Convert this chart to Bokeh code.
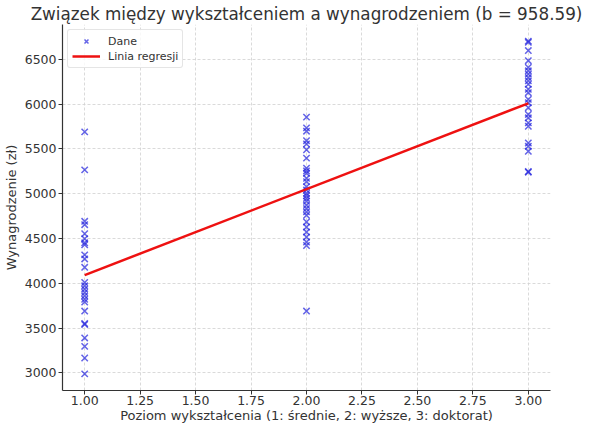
from bokeh.plotting import figure
from bokeh.models import FixedTicker, NumeralTickFormatter, Range1d, Legend, LegendItem
from bokeh.embed import file_html
from bokeh.resources import INLINE

# education levels and salaries
poziomy = [1, 2, 3]
pensje_srednie = [5690, 5266, 4692, 4654, 4553, 4497, 4452, 4430, 4317, 4272, 4178,
                  4009, 3972, 3934, 3897, 3859, 3822, 3791, 3690, 3551, 3540, 3390,
                  3296, 3166, 2989]
pensje_wyzsze = [5855, 5735, 5698, 5592, 5555, 5491, 5397, 5285, 5254, 5228, 5172,
                 5135, 5078, 5041, 5003, 4977, 4947, 4916, 4871, 4834, 4797, 4759,
                 4685, 4628, 4572, 4516, 4460, 4422, 3690]
pensje_doktorat = [6703, 6690, 6598, 6485, 6410, 6372, 6335, 6297, 6260, 6222, 6166,
                   6128, 6053, 6016, 5960, 5885, 5847, 5791, 5753, 5566, 5529, 5473,
                   5248, 5240]

nachylenie = 958.59
wyraz_wolny = 3133.0
x_ticks = [1.0, 1.25, 1.5, 1.75, 2.0, 2.25, 2.5, 2.75, 3.0]
y_ticks = [3000, 3500, 4000, 4500, 5000, 5500, 6000, 6500]

FONT = "DejaVu Sans"
TXT = "#333333"

x_vals = []
y_vals = []
for lvl, vals in zip(poziomy, [pensje_srednie, pensje_wyzsze, pensje_doktorat]):
    x_vals += [lvl] * len(vals)
    y_vals += vals

p = figure(width=584, height=425, output_backend="svg", toolbar_location=None,
           x_range=Range1d(0.9, 3.1), y_range=Range1d(2803, 6889),
           title="Związek między wykształceniem a wynagrodzeniem (b = 958.59)",
           min_border_left=0, min_border_right=34, min_border_top=0, min_border_bottom=0)

p.title.text_font = FONT
p.title.text_font_size = "16.8px"
p.title.text_font_style = "normal"
p.title.text_color = TXT
p.title.align = "center"
p.title.offset = -4
p.title.standoff = 2

dane = p.scatter(x_vals, y_vals, marker="x", size=9, line_width=1.5,
                 color="#2222dd", alpha=0.7)

lx = [poziomy[0], poziomy[-1]]
ly = [wyraz_wolny + nachylenie * v for v in lx]
linia = p.line(lx, ly, color="#ee1111", line_width=2.5)

p.xaxis.ticker = FixedTicker(ticks=x_ticks)
p.xaxis.formatter = NumeralTickFormatter(format="0.00")
p.yaxis.ticker = FixedTicker(ticks=y_ticks)
p.xaxis.axis_label = "Poziom wykształcenia (1: średnie, 2: wyższe, 3: doktorat)"
p.yaxis.axis_label = "Wynagrodzenie (zł)"

for ax in (p.xaxis[0], p.yaxis[0]):
    ax.axis_label_text_font = FONT
    ax.axis_label_text_font_size = "13px"
    ax.axis_label_text_font_style = "normal"
    ax.axis_label_text_color = TXT
    ax.major_label_text_font = FONT
    ax.major_label_text_font_size = "12.5px"
    ax.major_label_text_color = TXT
    ax.minor_tick_line_color = None
    ax.major_tick_in = 0
    ax.major_tick_out = 4
    ax.axis_line_color = "#333333"
    ax.axis_line_width = 1.2
    ax.major_tick_line_color = "#333333"

p.xaxis.major_label_standoff = 1
p.xaxis.axis_label_standoff = 0
p.yaxis.major_label_standoff = 2
p.yaxis.axis_label_standoff = 3

p.outline_line_color = None
p.grid.grid_line_color = "#d0d0d0"
p.grid.grid_line_dash = "3 2"
p.grid.grid_line_width = 0.8

legend = Legend(items=[LegendItem(label="Dane", renderers=[dane]),
                       LegendItem(label="Linia regresji", renderers=[linia])],
                location="top_left")
legend.label_text_font = FONT
legend.label_text_font_size = "11px"
legend.label_text_color = TXT
legend.border_line_color = "#cccccc"
legend.border_radius = 3
legend.background_fill_alpha = 0.8
legend.glyph_width = 28
legend.glyph_height = 14
legend.spacing = 1
legend.padding = 4
legend.margin = 5
legend.label_height = 14
legend.label_standoff = 8
p.add_layout(legend)

open("out.html", "w").write(file_html(p, INLINE))
